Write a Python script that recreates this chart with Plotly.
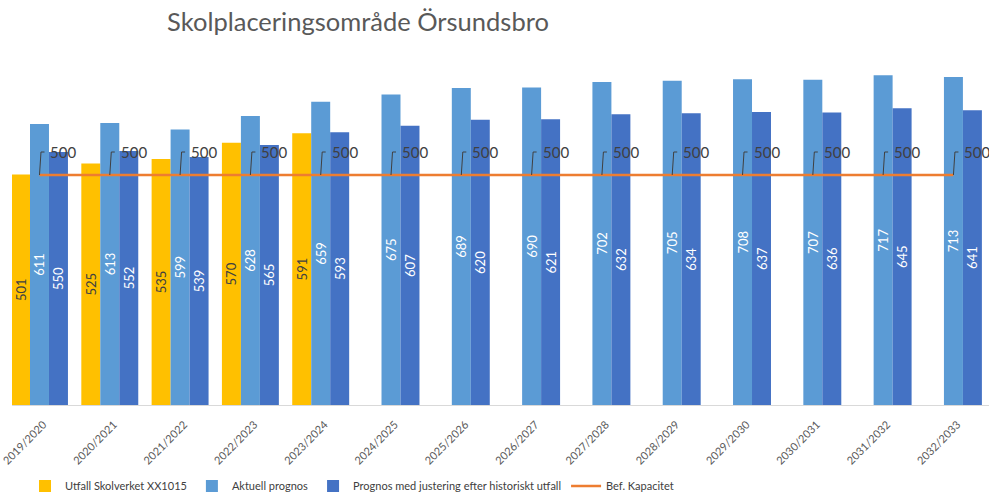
import plotly.graph_objects as go

categories = ["2019/2020", "2020/2021", "2021/2022", "2022/2023", "2023/2024", "2024/2025",
              "2025/2026", "2026/2027", "2027/2028", "2028/2029", "2029/2030", "2030/2031",
              "2031/2032", "2032/2033"]
utfall = [501, 525, 535, 570, 591, None, None, None, None, None, None, None, None, None]
aktuell = [611, 613, 599, 628, 659, 675, 689, 690, 702, 705, 708, 707, 717, 713]
justerad = [550, 552, 539, 565, 593, 607, 620, 621, 632, 634, 637, 636, 645, 641]
kapacitet = [500] * 14

FONT = "Lato"
fig = go.Figure()

def bar(name, vals, color, tcolor):
    fig.add_trace(go.Bar(
        x=categories, y=vals, name=name, marker=dict(color=color, line=dict(width=0)),
        text=[("" if v is None else str(v)) for v in vals], textposition="inside",
        insidetextanchor="middle", textangle=-90,
        textfont=dict(family=FONT, size=13, color=tcolor)))

bar("Utfall Skolverket XX1015", utfall, "#FFC000", "#404040")
bar("Aktuell prognos", aktuell, "#5B9BD5", "#FFFFFF")
bar("Prognos med justering efter historiskt utfall", justerad, "#4472C4", "#FFFFFF")

fig.add_trace(go.Scatter(x=categories, y=kapacitet, name="Bef. Kapacitet", mode="lines",
                         line=dict(color="#ED7D31", width=2.5)))

for c, v in zip(categories, kapacitet):
    fig.add_shape(type="path", xref="x", yref="y", xsizemode="pixel", ysizemode="pixel",
                  xanchor=c, yanchor=v, path="M 0 0 L 1.5 23 L 5 23",
                  line=dict(color="#404040", width=1))
    fig.add_annotation(x=c, y=v, text=str(v), showarrow=False, xanchor="left", yanchor="middle",
                       xshift=9, yshift=23, font=dict(family=FONT, size=15, color="#404040"))

fig.update_layout(
    width=989, height=492,
    margin=dict(l=12, r=0, t=37, b=87),
    paper_bgcolor="white", plot_bgcolor="white",
    barmode="group", bargap=0.19, bargroupgap=0,
    uniformtext=dict(mode="show", minsize=13),
    title=dict(text="Skolplaceringsområde Örsundsbro", x=358 / 989, xanchor="center", xref="container",
               y=1 - 22 / 492, yanchor="middle", yref="container",
               font=dict(family=FONT, size=25.5, color="#595959")),
    font=dict(family=FONT, color="#595959"),
    xaxis=dict(type="category", range=[-0.391, 13.506], tickangle=-45, showgrid=False,
               showline=True, linecolor="#D9D9D9", linewidth=1, ticks="", automargin=False,
               ticklabelstandoff=8, ticklabelshift=4,
               tickfont=dict(family=FONT, size=11, color="#595959")),
    yaxis=dict(range=[0, 800], visible=False, showgrid=False, zeroline=False),
    showlegend=True,
    legend=dict(orientation="h", x=25 / 989, xanchor="left", xref="container",
                y=6 / 492, yanchor="middle", yref="container",
                font=dict(family=FONT, size=11, color="#404040"), traceorder="normal"),
)

fig.write_html("out.html", post_script="document.body.style.margin='0';",
               config={"displayModeBar": False})
